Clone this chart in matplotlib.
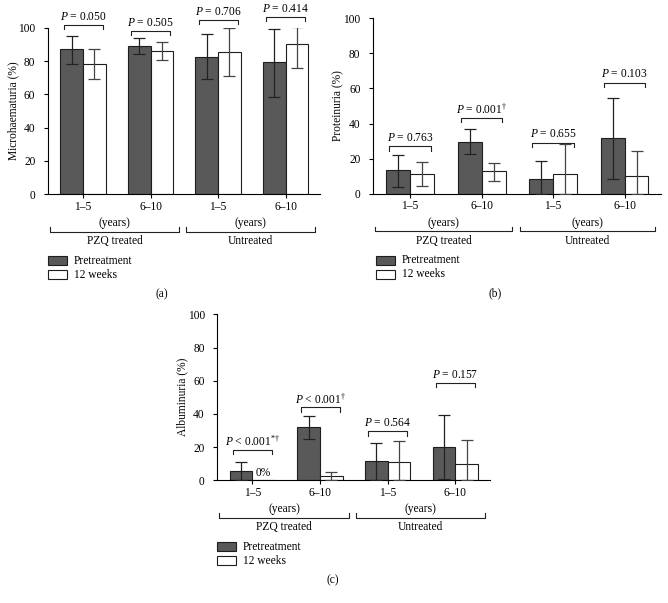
import matplotlib
matplotlib.use("Agg")
import matplotlib.pyplot as plt
from matplotlib.patches import Rectangle
from matplotlib.transforms import blended_transform_factory
import numpy as np

plt.rcParams['font.family'] = ['Liberation Serif', 'DejaVu Serif']
plt.rcParams['mathtext.fontset'] = 'custom'
plt.rcParams['mathtext.rm'] = 'Liberation Serif'
plt.rcParams['mathtext.it'] = 'Liberation Serif:italic'

# ---------------- data ----------------
age_groups = ["1–5", "6–10", "1–5", "6–10"]
treat_groups = ["PZQ treated", "Untreated"]
series_names = ["Pretreatment", "12 weeks"]

# (a) Microhaematuria
a_pre = [87.0, 89.0, 82.4, 79.2]
a_pre_lo = [78.2, 84.2, 69.0, 58.6]
a_pre_hi = [95.2, 93.6, 96.0, 99.2]
a_post = [78.2, 86.2, 85.2, 90.2]
a_post_lo = [69.2, 80.6, 70.8, 75.6]
a_post_hi = [87.0, 91.6, 99.6, 100.2]
a_p = ["$P$ = 0.050", "$P$ = 0.505", "$P$ = 0.706", "$P$ = 0.414"]
a_bracket = [101.6, 98.0, 104.6, 106.6]

# (b) Proteinuria
b_pre = [13.3, 29.7, 8.6, 31.7]
b_pre_lo = [4.0, 22.6, 0.0, 8.6]
b_pre_hi = [21.9, 36.7, 18.4, 54.4]
b_post = [11.4, 12.7, 11.0, 9.9]
b_post_lo = [4.6, 7.4, 0.0, 0.0]
b_post_hi = [18.3, 17.7, 28.5, 24.1]
b_p = ["$P$ = 0.763", "$P$ = 0.001$^{†}$", "$P$ = 0.655", "$P$ = 0.103"]
b_bracket = [27.2, 43.3, 29.1, 63.3]

# (c) Albuminuria
c_pre = [5.6, 32.1, 11.4, 20.1]
c_pre_lo = [0.0, 24.7, 0.0, 0.6]
c_pre_hi = [11.2, 39.0, 22.3, 39.4]
c_post = [0.0, 2.4, 10.8, 10.0]
c_post_lo = [0.0, 0.0, 0.0, 0.0]
c_post_hi = [0.0, 4.8, 23.7, 24.3]
c_p = ["$P$ < 0.001$^{*†}$", "$P$ < 0.001$^{†}$", "$P$ = 0.564", "$P$ = 0.157"]
c_bracket = [18.3, 44.0, 29.5, 58.6]

# ---------------- layout ----------------
W, H = 668, 603
fig = plt.figure(figsize=(W / 100, H / 100), dpi=100)

DARK = "#595959"
EDGE = "#1e1e1e"
FS = 8.3


def make_axes(left, right, top, bottom):
    return fig.add_axes([left / W, 1 - bottom / H, (right - left) / W, (bottom - top) / H])


def fy(py):
    return 1 - py / H


def panel(ax, pre, pre_lo, pre_hi, post, post_lo, post_hi, ptxt, brk, ylabel,
          axis_py, left_px, width_px, caption, caption_x, zero_label=False):
    x = np.arange(len(pre))
    w = 0.335
    ax.bar(x - w / 2, pre, w, color=DARK, edgecolor=EDGE, linewidth=0.8, zorder=2)
    ax.bar(x + w / 2, post, w, color="white", edgecolor=EDGE, linewidth=0.8, zorder=2)
    pre = np.array(pre); post = np.array(post)
    ax.errorbar(x - w / 2, pre, yerr=[pre - np.array(pre_lo), np.array(pre_hi) - pre],
                fmt="none", ecolor="#222222", elinewidth=0.9, capsize=4, capthick=0.9, zorder=3)
    mask = np.array(post_hi) > 0
    ax.errorbar((x + w / 2)[mask], post[mask],
                yerr=[(post - np.array(post_lo))[mask], (np.array(post_hi) - post)[mask]],
                fmt="none", ecolor="#444444", elinewidth=0.9, capsize=4, capthick=0.9, zorder=3)
    if zero_label:
        ax.text(x[0] + 0.04, 1.0, "0%", fontsize=FS, ha="left", va="bottom")
    # p-value brackets
    hw = 0.29
    for xi, t, b in zip(x, ptxt, brk):
        ax.plot([xi - hw, xi - hw, xi + hw, xi + hw], [b - 2.6, b, b, b - 2.6],
                color="#222222", lw=0.8, clip_on=False)
        ax.text(xi, b + 4.8, t, ha="center", va="center", fontsize=FS, clip_on=False)
    ax.set_xlim(-0.52, 3.51)
    ax.set_ylim(0, 100)
    ax.set_yticks([0, 20, 40, 60, 80, 100])
    ax.set_xticks(x)
    ax.set_xticklabels([])
    ax.tick_params(axis="both", direction="out", length=3, width=0.8, labelsize=FS)
    ax.tick_params(axis="y", pad=6)
    ax.spines["top"].set_visible(False)
    ax.spines["right"].set_visible(False)
    ax.set_ylabel(ylabel, fontsize=FS)
    ax.yaxis.set_label_coords(-29 / width_px, 0.5)
    tr = blended_transform_factory(ax.transData, fig.transFigure)
    for xi, lab in zip(x, age_groups):
        fig.text(xi, fy(axis_py + 12.5), lab, transform=tr, ha="center", va="center", fontsize=FS)
    for (x0, x1), g in zip([(-0.49, 1.42), (1.53, 3.43)], treat_groups):
        fig.text((x0 + x1) / 2, fy(axis_py + 29), "(years)", transform=tr,
                 ha="center", va="center", fontsize=FS)
        fig.add_artist(plt.Line2D([x0, x0, x1, x1],
                                  [fy(axis_py + 33), fy(axis_py + 37.5), fy(axis_py + 37.5), fy(axis_py + 33)],
                                  transform=tr, color="#222222", lw=0.8))
        fig.text((x0 + x1) / 2, fy(axis_py + 47), g, transform=tr,
                 ha="center", va="center", fontsize=FS)
    # legend
    for i, (name, col) in enumerate(zip(series_names, [DARK, "white"])):
        top = axis_py + 62 + 14 * i
        fig.add_artist(Rectangle((left_px / W, fy(top + 9)), 19 / W, 9 / H,
                                 transform=fig.transFigure, facecolor=col,
                                 edgecolor=EDGE, linewidth=0.8))
        fig.text((left_px + 26) / W, fy(top + 4.5), name, ha="left", va="center", fontsize=FS)
    fig.text(caption_x / W, fy(axis_py + 100), caption, ha="center", va="center", fontsize=FS)


ax_a = make_axes(48, 320, 27.7, 194.3)
panel(ax_a, a_pre, a_pre_lo, a_pre_hi, a_post, a_post_lo, a_post_hi, a_p, a_bracket,
      "Microhaematuria (%)", 194.3, 48, 272, "(a)", 162)

ax_b = make_axes(373, 661, 18.3, 193.7)
panel(ax_b, b_pre, b_pre_lo, b_pre_hi, b_post, b_post_lo, b_post_hi, b_p, b_bracket,
      "Proteinuria (%)", 193.7, 376, 288, "(b)", 495)

ax_c = make_axes(217.3, 490, 314.3, 480.3)
panel(ax_c, c_pre, c_pre_lo, c_pre_hi, c_post, c_post_lo, c_post_hi, c_p, c_bracket,
      "Albuminuria (%)", 480.3, 217, 273, "(c)", 333, zero_label=True)

fig.savefig("out.png", dpi=100)
